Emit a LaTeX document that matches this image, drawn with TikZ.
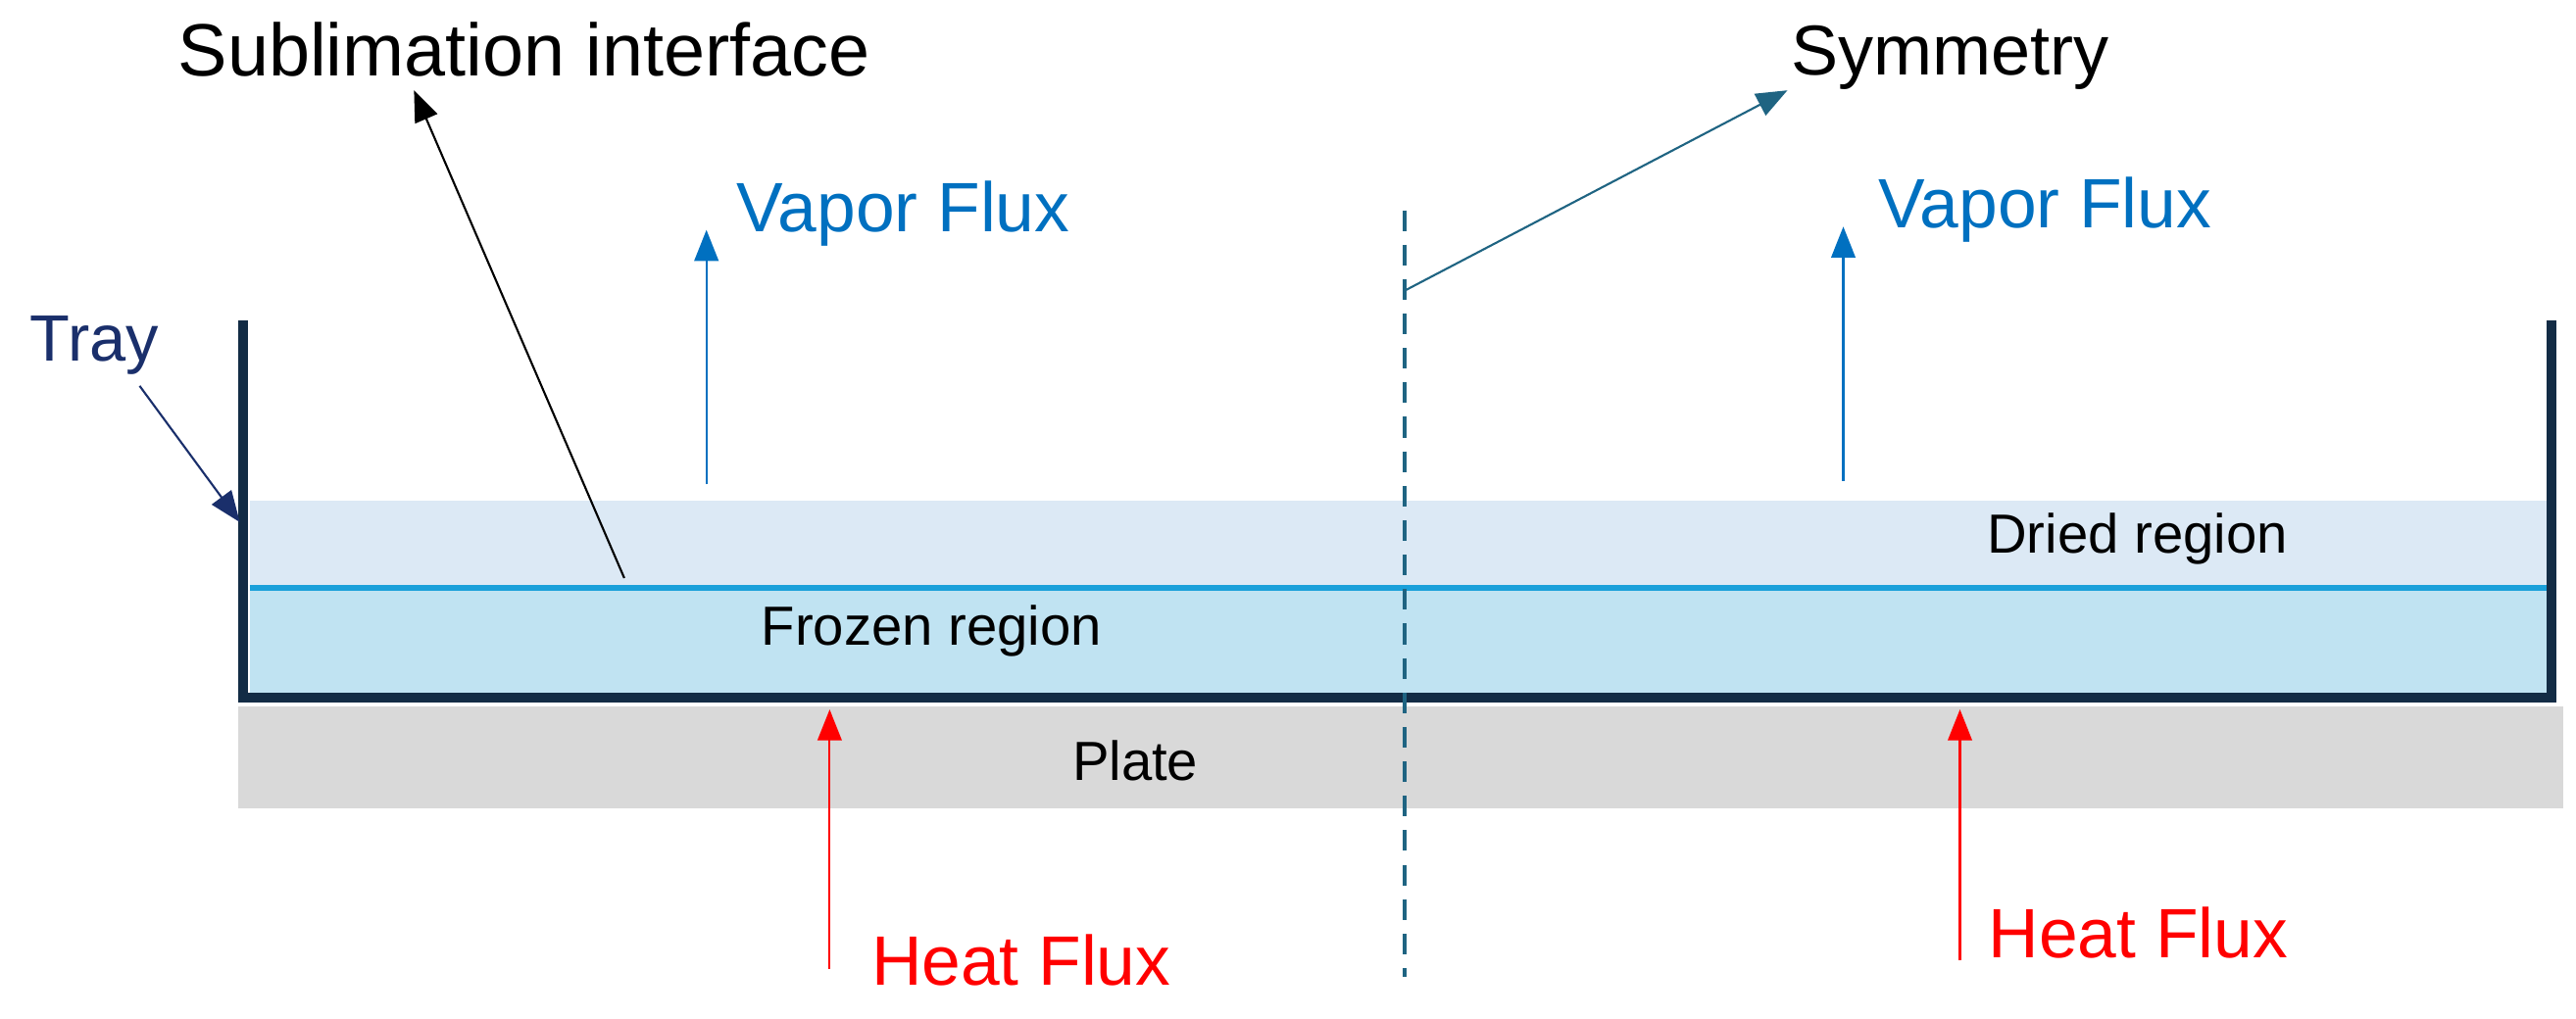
\documentclass[tikz,border=0pt]{standalone}
\usepackage{fontspec}
\setmainfont{Liberation Sans}
\usetikzlibrary{arrows.meta}
\definecolor{navy}{HTML}{132C45}
\definecolor{dried}{HTML}{DCE9F5}
\definecolor{frozen}{HTML}{C0E3F2}
\definecolor{iface}{HTML}{1AA0DA}
\definecolor{plate}{HTML}{D9D9D9}
\definecolor{sym}{HTML}{1F6482}
\definecolor{vap}{HTML}{0070C0}
\definecolor{trayc}{HTML}{1A2F6B}
\begin{document}
\begin{tikzpicture}[x=0.01676cm,y=-0.01676cm,
  lbl/.style={font=\fontsize{20.5}{23}\selectfont,anchor=west,inner sep=0},
  big/.style={font=\fontsize{20.3}{23}\selectfont,anchor=west,inner sep=0},
  small/.style={font=\fontsize{16}{18}\selectfont,inner sep=0},
  arr/.style={-{Triangle[length=9pt,width=7pt]},line width=0.6pt}]
\useasboundingbox (0,0) rectangle (1568,620);
% regions
\fill[plate] (145,430) rectangle (1560,492);
\fill[dried] (152,305) rectangle (1550,358);
\fill[frozen] (152,358) rectangle (1550,422);
\draw[iface,line width=1.5pt] (152,358) -- (1550,358);
% tray
\draw[navy,line width=2.8pt] (148,195) -- (148,425) -- (1553,425) -- (1553,195);
% symmetry
\draw[sym,dashed,line width=0.9pt,dash pattern=on 6pt off 4pt] (855,128) -- (855,595);
\coordinate (s0) at (855,177);
\node[lbl] (symt) at (1090,35) {Symmetry};
\draw[arr,sym] (s0) -- (1088,55);
% sublimation
\node[lbl,font=\fontsize{21.5}{24}\selectfont] (subt) at (108,30) {Sublimation interface};
\coordinate (si) at (380,352);
\draw[arr,black] (si) -- (252,55);
% tray label
\node[lbl,text=trayc,font=\fontsize{19}{22}\selectfont] (tray) at (18,210) {Tray};
\coordinate (tw) at (146,318);
\draw[arr,trayc] (85,235) -- (tw);
% vapor
\node[big,text=vap] (v1) at (448,130) {Vapor Flux};
\node[big,text=vap] (v2) at (1143,128) {Vapor Flux};
\coordinate (v1b) at (430,295); \coordinate (v2b) at (1122,293);
\draw[arr,vap] (v1b) -- (430,140);
\draw[arr,vap] (v2b) -- (1122,138);
% heat
\node[big,text=red] (h1) at (530,585) {Heat Flux};
\node[big,text=red] (h2) at (1210,568) {Heat Flux};
\coordinate (h1b) at (505,590); \coordinate (h2b) at (1193,585);
\draw[arr,red] (h1b) -- (505,432);
\draw[arr,red] (h2b) -- (1193,432);
% region labels
\node[small] (fr) at (567,384) {Frozen region};
\node[small] (dr) at (1301,328) {Dried region};
\node[small] (pl) at (691,463) {Plate};
\end{tikzpicture}
\end{document}
